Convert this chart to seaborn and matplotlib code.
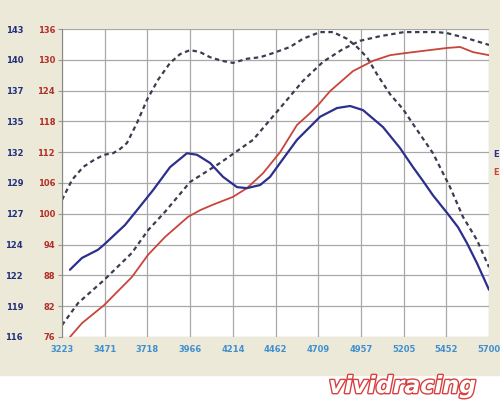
import pandas as pd
import seaborn as sns
import matplotlib.pyplot as plt
import matplotlib.patheffects as pe

x_ticks = [3223, 3471, 3718, 3966, 4214, 4462, 4709, 4957, 5205, 5452, 5700]
red_ticks = [76, 82, 88, 94, 100, 106, 112, 118, 124, 130, 136]
blue_labels = ["116", "119", "122", "124", "127", "129", "132", "135", "137", "140", "143"]

# all curves read in units of the red (inner) axis
hump_rpm = [3223, 3281, 3345, 3409, 3467, 3519, 3559, 3600, 3658, 3716, 3780, 3850,
            3908, 3966, 4024, 4082, 4151, 4215, 4296, 4372, 4447, 4546, 4621, 4720,
            4795, 4876, 4934, 4992, 5050, 5126, 5201, 5259, 5375, 5474, 5549, 5630, 5700]
hump_val = [102.7, 106.6, 109.1, 110.5, 111.5, 111.8, 112.6, 113.8, 117.7, 122.2, 126.1, 129.4,
            131.1, 131.9, 131.5, 130.5, 129.8, 129.4, 130.2, 130.5, 131.3, 132.5, 134.1, 135.4,
            135.4, 134.1, 132.5, 130.5, 127.2, 123.3, 120.4, 117.5, 111.8, 105.2, 99.4, 94.9, 89.6]

rise_rpm = [3223, 3316, 3467, 3629, 3722, 3821, 3966, 4140, 4331, 4488, 4621, 4737,
            4853, 4952, 5068, 5207, 5398, 5456, 5572, 5700]
rise_val = [78.3, 82.6, 87.1, 92.4, 96.8, 100.4, 106.2, 109.9, 114.4, 120.6, 125.9, 129.6,
            132.1, 133.7, 134.6, 135.4, 135.4, 135.2, 134.2, 132.9]

red_rpm = [3269, 3339, 3467, 3629, 3722, 3821, 3954, 4024, 4093, 4215, 4296, 4389,
           4488, 4586, 4662, 4714, 4778, 4911, 5027, 5126, 5213, 5358, 5456, 5532, 5607, 5700]
red_val = [76.0, 78.7, 82.2, 87.7, 92.0, 95.5, 99.4, 100.7, 101.7, 103.3, 105.0, 107.9,
           112.0, 117.3, 119.6, 121.4, 123.9, 127.8, 129.8, 130.9, 131.3, 131.9, 132.3, 132.5,
           131.5, 130.9]

blue_rpm = [3269, 3339, 3374, 3432, 3467, 3588, 3658, 3751, 3850, 3948, 4006, 4082,
            4157, 4238, 4296, 4372, 4430, 4488, 4586, 4720, 4818, 4894, 4969, 5085,
            5184, 5259, 5317, 5375, 5456, 5520, 5572, 5630, 5700]
blue_val = [89.1, 91.4, 92.0, 93.0, 94.0, 97.8, 100.7, 104.6, 109.1, 111.8, 111.5, 109.9,
            107.2, 105.2, 105.0, 105.6, 107.2, 109.9, 114.4, 118.9, 120.6, 121.0, 120.2, 116.9,
            112.8, 109.1, 106.4, 103.6, 100.2, 97.4, 94.3, 90.4, 85.2]

beige = "#ECE9D8"
fig = plt.figure(figsize=(5, 4), dpi=100)
fig.patch.set_facecolor("white")
# beige window panel, white strip at the bottom for the logo
fig.add_artist(plt.Rectangle((0, 0.0625), 1, 0.9375, transform=fig.transFigure,
                             color=beige, zorder=0))

ax = fig.add_axes([0.124, 0.1575, 0.854, 0.77])
ax.set_facecolor("white")

dark = "#3c3c50"
dash = (0, (2, 1.6))
round_kw = dict(solid_joinstyle="round", solid_capstyle="round", dash_joinstyle="round")
sns.lineplot(x=hump_rpm, y=hump_val, ax=ax, color=dark, lw=1.6, linestyle=dash, **round_kw)
sns.lineplot(x=rise_rpm, y=rise_val, ax=ax, color=dark, lw=1.6, linestyle=dash, **round_kw)
sns.lineplot(x=red_rpm, y=red_val, ax=ax, color="#c8453c", lw=1.3, **round_kw)
sns.lineplot(x=blue_rpm, y=blue_val, ax=ax, color="#2c2f8c", lw=1.6, **round_kw)

ax.set_xlim(3223, 5700)
ax.set_ylim(76, 136)
ax.set_xticks(x_ticks)
ax.set_yticks(red_ticks)
ax.set_xticklabels([str(t) for t in x_ticks])
ax.grid(True, color="#a8a8a8", lw=0.9)
ax.set_axisbelow(True)
for s in ["top", "right", "bottom"]:
    ax.spines[s].set_visible(False)
ax.spines["left"].set_color("#888888")
ax.tick_params(axis="y", length=3, color="#999999", pad=2, labelsize=6,
               labelcolor="#b03028")
ax.tick_params(axis="x", length=0, pad=6, labelsize=6, labelcolor="#3f8fcf")
for lab in ax.get_yticklabels() + ax.get_xticklabels():
    lab.set_fontweight("bold")

# outer (blue) scale on the far left
ax2 = ax.twinx()
ax2.set_ylim(76, 136)
ax2.set_yticks(red_ticks)
ax2.set_yticklabels(blue_labels)
ax2.yaxis.tick_left()
ax2.spines["left"].set_position(("outward", 26))
for s in ax2.spines.values():
    s.set_visible(False)
ax2.tick_params(axis="y", length=0, labelsize=6, labelcolor="#23307a", pad=2)
for lab in ax2.get_yticklabels():
    lab.set_fontweight("bold")

# edge of the side panel
fig.text(0.986, 0.607, "E", color="#2c2f8c", fontsize=6, fontweight="bold")
fig.text(0.986, 0.562, "E", color="#c8453c", fontsize=6, fontweight="bold")

# logo
fig.text(0.805, 0.035, "vividracing", ha="center", va="center", fontsize=17,
         fontweight="heavy", style="italic", color="white",
         path_effects=[pe.withStroke(linewidth=2, foreground="#d84040")])

fig.savefig("out.png", dpi=100, facecolor=fig.get_facecolor())
